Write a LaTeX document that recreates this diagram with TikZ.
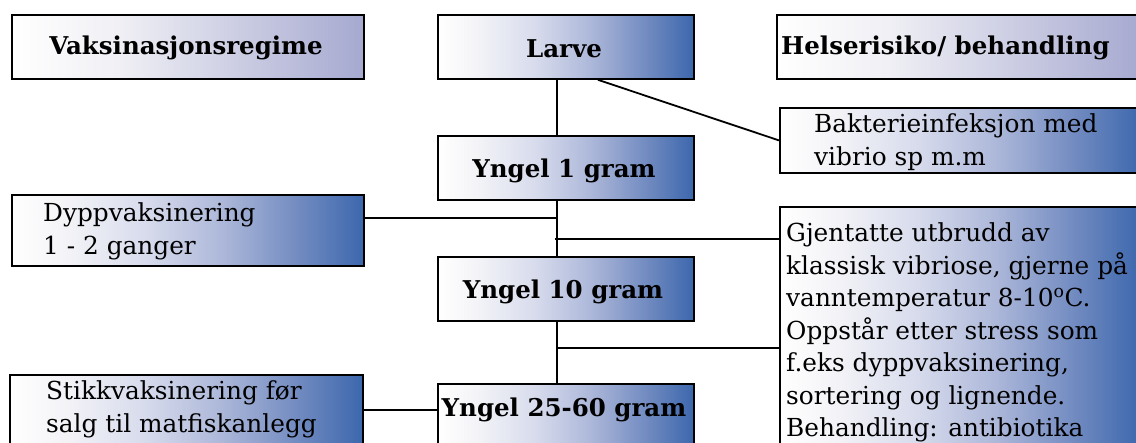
\documentclass[tikz,border=0pt]{standalone}
\usepackage{fontspec}
\setmainfont{DejaVu Serif}
\definecolor{lavend}{RGB}{166,169,208}
\pgfdeclarehorizontalshading{blueshade}{100bp}{color(0bp)=(white); color(25bp)=(white); color(33bp)=(rgb,255:red,243;green,243;blue,247); color(44bp)=(rgb,255:red,215;green,219;blue,236); color(55bp)=(rgb,255:red,172;green,183;blue,217); color(66bp)=(rgb,255:red,112;green,138;blue,192); color(75bp)=(rgb,255:red,60;green,103;blue,173); color(100bp)=(rgb,255:red,60;green,103;blue,173)}
\pgfdeclarehorizontalshading{lavshade}{100bp}{color(0bp)=(white); color(25bp)=(white); color(40bp)=(rgb,255:red,240;green,240;blue,245); color(75bp)=(lavend); color(100bp)=(lavend)}
\tikzset{
  boxbase/.style={draw=black, line width=1.8pt, rectangle, inner sep=0pt, anchor=north west},
  bluebox/.style={boxbase, shading=blueshade},
  lavbox/.style={boxbase, shading=lavshade},
  headtxt/.style={font=\fontsize{24.5}{28}\selectfont\bfseries, inner sep=0pt, anchor=base},
  bodytxt/.style={inner sep=0pt, anchor=base west},
  link/.style={draw=black, line width=1.8pt}
}
\newcommand{\bodylines}[1]{\parbox[t]{400pt}{\fontsize{24.8}{32.5}\selectfont #1}}
\begin{document}
\begin{tikzpicture}[x=1pt,y=-1pt]
\useasboundingbox (0,0) rectangle (1136,443);
\clip (0,0) rectangle (1136,443);
% boxes
\node[lavbox, minimum width=352pt, minimum height=64pt] (vaks) at (11,14) {};
\node[bluebox, minimum width=256pt, minimum height=64pt] (larve) at (437,14) {};
\node[lavbox, minimum width=366pt, minimum height=64pt] (helse) at (776,14) {};
\node[bluebox, minimum width=362pt, minimum height=65pt] (bakt) at (779,107) {};
\node[bluebox, minimum width=256pt, minimum height=64pt] (y1) at (437,135) {};
\node[bluebox, minimum width=352pt, minimum height=71pt] (dypp) at (11,194) {};
\node[bluebox, minimum width=361pt, minimum height=260pt] (gjen) at (779,206) {};
\node[bluebox, minimum width=256pt, minimum height=64pt] (y10) at (437,256) {};
\node[bluebox, minimum width=353pt, minimum height=90pt] (stikk) at (9,374) {};
\node[bluebox, minimum width=256pt, minimum height=80pt] (y25) at (437,383) {};
% texts
\node[headtxt] (vakst) at (186,55) {Vaksinasjonsregime};
\node[headtxt] (larvet) at (564,58) {Larve};
\node[headtxt, anchor=base west] (helset) at (781,55) {Helserisiko/ behandling};
\node[headtxt] (y1t) at (564,178) {Yngel 1 gram};
\node[headtxt] (y10t) at (563,299) {Yngel 10 gram};
\node[headtxt] (y25t) at (564,417) {Yngel 25-60 gram};
\node[bodytxt] (baktt) at (814,133) {\bodylines{Bakterieinfeksjon med\\vibrio sp m.m}};
\node[bodytxt] (dyppt) at (43,222) {\bodylines{Dyppvaksinering\\1 - 2 ganger}};
\node[bodytxt] (stikkt) at (46,400) {\bodylines{Stikkvaksinering før\\salg til matfiskanlegg}};
\node[bodytxt] (gjent) at (786,242) {\bodylines{Gjentatte utbrudd av\\klassisk vibriose, gjerne på\\vanntemperatur 8-10\textsuperscript{o}C.\\Oppstår etter stress som\\f.eks dyppvaksinering,\\sortering og lignende.\\Behandling: antibiotika}};
% connectors
\coordinate (trunk) at (557,0);
\coordinate (j1) at (557,218);
\coordinate (j2) at (557,239);
\coordinate (j3) at (557,348);
\coordinate (j4) at (400,410);
\path[link] (larve.south -| trunk) -- (y1.north -| trunk);
\path[link] ([xshift=32pt]larve.south) -- (bakt.west);
\path[link] (y1.south -| trunk) -- (y10.north -| trunk);
\path[link] (dypp.east |- j1) -- (j1);
\path[link] ([xshift=-2pt]j2) -- (gjen.west |- j2);
\path[link] (y10.south -| trunk) -- (y25.north -| trunk);
\path[link] (j3) -- (gjen.west |- j3);
\path[link] (stikk.east |- j4) -- (y25.west |- j4);
\end{tikzpicture}
\end{document}
